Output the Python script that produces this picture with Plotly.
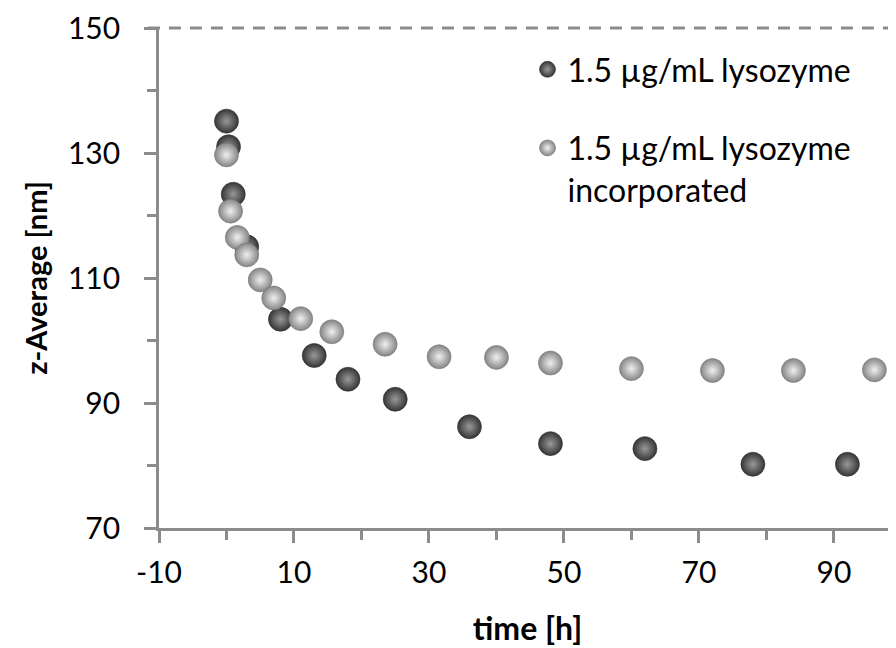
import plotly.graph_objects as go

# Data
time_free = [0, 0.3, 1.0, 3.0, 8.0, 13, 18, 25, 36, 48, 62, 78, 92]
zavg_free = [135.1, 131.0, 123.4, 115.0, 103.4, 97.6, 93.8, 90.6, 86.2, 83.5, 82.7, 80.2, 80.2]

time_inc = [0, 0.6, 1.6, 3.0, 5.0, 7.0, 11.0, 15.6, 23.5, 31.5, 40, 48, 60, 72, 84, 96]
zavg_inc = [129.7, 120.7, 116.5, 113.7, 109.7, 106.8, 103.5, 101.4, 99.4, 97.4, 97.3, 96.4, 95.5, 95.2, 95.2, 95.3]

name_free = "1.5 µg/mL lysozyme"
name_inc = "1.5 µg/mL lysozyme<br>incorporated"

x_ticks = [-10, 10, 30, 50, 70, 90]
y_ticks = [70, 90, 110, 130, 150]

AXIS = "#8c8c8c"
FONT = "Lato"

fig = go.Figure()
fig.add_trace(go.Scatter(
    x=time_free, y=zavg_free, mode="markers", name=name_free, legendgroup="a",
    marker=dict(size=24, color="#363636",
                gradient=dict(type="radial", color="#999999"),
                line=dict(width=0.6, color="#2e2e2e")),
))
fig.add_trace(go.Scatter(
    x=time_inc, y=zavg_inc, mode="markers", name=name_inc, legendgroup="b",
    marker=dict(size=24, color="#858585",
                gradient=dict(type="radial", color="#f0f0f0"),
                line=dict(width=0.6, color="#777777")),
))

fig.add_shape(type="line", xref="paper", yref="paper", x0=-0.015, x1=1, y0=1, y1=1,
              line=dict(color=AXIS, width=3, dash="12px,9px"))

# margins compensate for the 8px default body margin of the HTML page
fig.update_layout(
    width=896, height=648,
    margin=dict(l=151, r=8, t=20, b=128),
    paper_bgcolor="white", plot_bgcolor="white",
    font=dict(family=FONT, color="black", size=30),
    showlegend=True,
    legend=dict(x=0.5, y=0.972, xanchor="left", yanchor="top", valign="top",
                font=dict(family=FONT, size=32, color="black"),
                bgcolor="rgba(0,0,0,0)", tracegroupgap=34, traceorder="grouped",
                itemwidth=30),
    xaxis=dict(range=[-10, 99.2], tickvals=x_ticks, ticktext=[str(v) for v in x_ticks],
               automargin=False,
               showgrid=False, zeroline=False, showline=True, linecolor=AXIS, linewidth=2.7,
               ticks="outside", ticklen=12, tickwidth=2.7, tickcolor=AXIS,
               ticklabelstandoff=4, tickfont=dict(size=30),
               minor=dict(dtick=10, tick0=0, ticks="outside", ticklen=9, tickwidth=2.7,
                          tickcolor=AXIS, showgrid=False),
               title=dict(text="<b>time [h]</b>", font=dict(family=FONT, size=32), standoff=30)),
    yaxis=dict(range=[70, 150], tickvals=y_ticks, ticktext=[str(v) for v in y_ticks],
               automargin=False,
               showgrid=False, zeroline=False, showline=True, linecolor=AXIS, linewidth=2.7,
               ticks="outside", ticklen=12, tickwidth=2.7, tickcolor=AXIS,
               ticklabelstandoff=18, tickfont=dict(size=30),
               minor=dict(dtick=10, tick0=0, ticks="outside", ticklen=9, tickwidth=2.7,
                          tickcolor=AXIS, showgrid=False),
               title=dict(text="<b>z-Average [nm]</b>", font=dict(family=FONT, size=29), standoff=12)),
)

fig.write_html("out.html")
